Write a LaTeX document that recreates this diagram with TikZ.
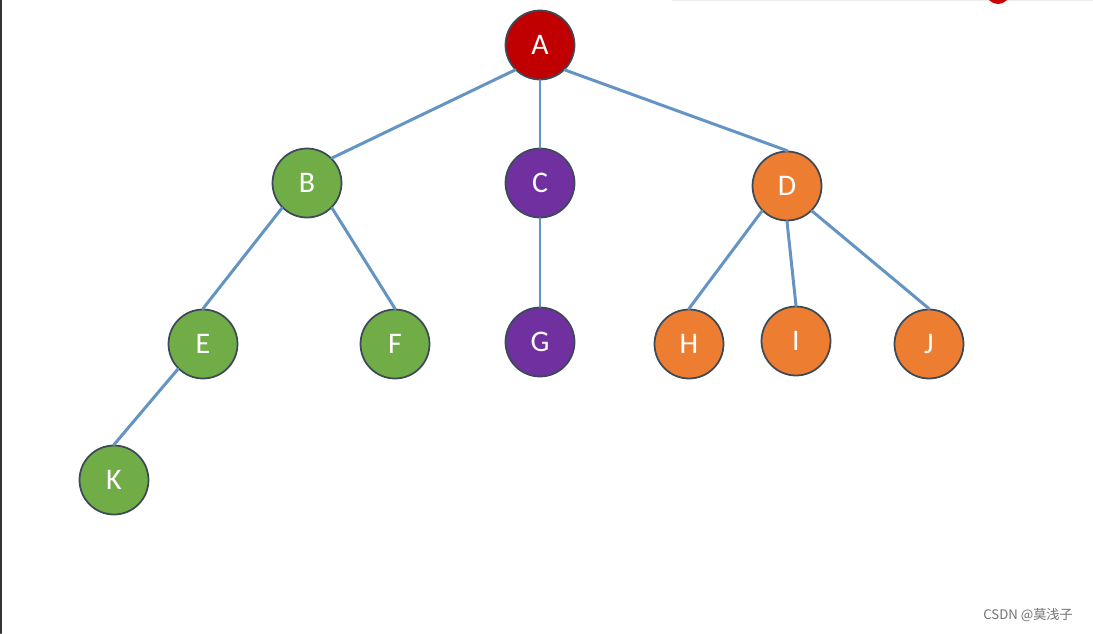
\documentclass[tikz,border=0pt]{standalone}
\usepackage{fontspec}
\setmainfont{Carlito}
\newfontfamily\cjk{Noto Sans CJK SC}
\definecolor{rootred}{HTML}{C00000}
\definecolor{leafgreen}{HTML}{70AD47}
\definecolor{midpurple}{HTML}{7030A0}
\definecolor{leaforange}{HTML}{ED7D31}
\definecolor{linkblue}{HTML}{6494C4}
\definecolor{rimgray}{HTML}{3C4A58}
\tikzset{
	vtx/.style={circle, draw=rimgray, line width=1pt, minimum size=1.38cm, inner sep=0pt, text=white, font=\fontsize{17}{20}\selectfont},
	edge/.style={linkblue, line width=1.7pt}
}
\begin{document}
\begin{tikzpicture}[x=0.02cm, y=-0.02cm, line join=round, line cap=round]
	\useasboundingbox (0,0) rectangle (1093,633);
	\fill[white] (0,0) rectangle (1093,633);
	\draw[black!80, line width=1.2pt] (1,0) -- (1,633);
	\draw[black!7, line width=0.8pt] (672,0.5) -- (1093,0.5);
	\begin{scope}
	\clip (0,0) rectangle (1093,633);
	\fill[red!80!black] (998,-8) circle (12);
	\end{scope}
	\node[vtx, fill=rootred] (A) at (540,45) {A};
	\node[vtx, fill=leafgreen] (B) at (307,183) {B};
	\node[vtx, fill=midpurple] (C) at (540,183) {C};
	\node[vtx, fill=leaforange] (D) at (787,186) {D};
	\node[vtx, fill=leafgreen] (E) at (203,344) {E};
	\node[vtx, fill=leafgreen] (F) at (395,344) {F};
	\node[vtx, fill=midpurple] (G) at (540,342) {G};
	\node[vtx, fill=leaforange] (H) at (689,344) {H};
	\node[vtx, fill=leaforange] (I) at (796,341) {I};
	\node[vtx, fill=leaforange] (J) at (929,344) {J};
	\node[vtx, fill=leafgreen] (K) at (114,480) {K};
	\foreach \a/\b in {A.south west/B.north east, A.south/C.north, A.south east/D.north,
		B.south west/E.north, B.south east/F.north, C.south/G.north,
		D.south west/H.north, D.south/I.north, D.south east/J.north, E.south west/K.north}
	\draw[edge] (\a) -- (\b);
	\node[left, text=black!55, font=\cjk\fontsize{7.5}{9}\selectfont] (mark) at (1079,615) {CSDN @莫浅子};
\end{tikzpicture}
\end{document}
